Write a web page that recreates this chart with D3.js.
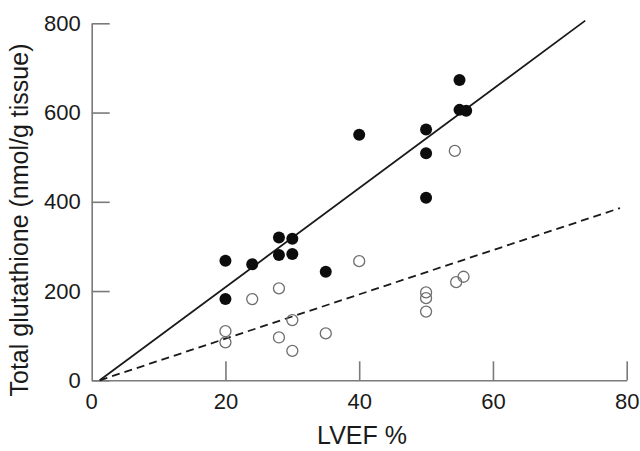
<!DOCTYPE html>
<html>
<head>
<meta charset="utf-8">
<script src="https://cdn.jsdelivr.net/npm/d3@7"></script>
<style>
  html, body { margin: 0; padding: 0; background: #fff; }
  svg { display: block; }
  text { font-family: "Liberation Sans", Arial, Helvetica, sans-serif; }
</style>
</head>
<body>
<svg id="chart" width="640" height="451"></svg>
<script>
// LVEF (%) and total glutathione (nmol/g tissue)
const filledX = [20, 20, 24, 28, 30, 28, 30, 35, 40, 50, 50, 50, 55, 55, 56];
const filledY = [268, 182, 260, 320, 317, 281, 283, 243, 550, 562, 509, 409, 673, 606, 604];
const openX = [20, 20, 24, 28, 28, 30, 30, 35, 40, 50, 50, 50, 54.5, 55.6, 54.3];
const openY = [110, 85, 182, 206, 96, 135, 66, 105, 267, 197, 184, 154, 220, 232, 514];
// regression line endpoints [x, y]
const solidLine = [[1.2, 0], [73.8, 806]];
const dashedLine = [[1.2, 0], [79, 386]];
const xTicks = [20, 40, 60, 80];
const yTicks = [0, 200, 400, 600, 800];
const xTitle = "LVEF %";
const yTitle = "Total glutathione (nmol/g tissue)";

const W = 640, H = 451;
const margin = { left: 91.7, right: 13.3, top: 23.3, bottom: 70.7 };
const svg = d3.select("#chart");

const x = d3.scaleLinear().domain([0, 80]).range([margin.left, W - margin.right]);
const y = d3.scaleLinear().domain([0, 800]).range([H - margin.bottom, margin.top]);

const axisColor = "#7a7a7a";
const textColor = "#1a1a1a";
const tickFont = "22px";
const titleFont = "25px";

// axes
const gx = svg.append("g")
  .attr("transform", `translate(0,${y(0)})`)
  .call(d3.axisBottom(x).tickValues(xTicks).tickSize(-19).tickSizeOuter(0).tickPadding(13));
const gy = svg.append("g")
  .attr("transform", `translate(${x(0)},0)`)
  .call(d3.axisLeft(y).tickValues(yTicks).tickSize(-18).tickSizeOuter(0).tickPadding(11));

[gx, gy].forEach(g => {
  g.select(".domain").attr("stroke", axisColor).attr("stroke-width", 1.6);
  g.selectAll(".tick line").attr("stroke", axisColor).attr("stroke-width", 1.6);
  g.selectAll(".tick text").attr("fill", textColor).style("font-size", tickFont);
});
// x axis: the 0 label sits under the y-axis
svg.append("text")
  .attr("x", x(0)).attr("y", y(0) + 13).attr("dy", "0.71em")
  .attr("text-anchor", "middle").attr("fill", textColor).style("font-size", tickFont)
  .text("0");

// regression lines
const line = d3.line().x(d => x(d[0])).y(d => y(d[1]));
svg.append("path").datum(solidLine).attr("d", line)
  .attr("fill", "none").attr("stroke", "#1a1a1a").attr("stroke-width", 1.8);
svg.append("path").datum(dashedLine).attr("d", line)
  .attr("fill", "none").attr("stroke", "#1a1a1a").attr("stroke-width", 1.8)
  .attr("stroke-dasharray", "8,5");

// open circles
svg.append("g").selectAll("circle").data(openX.map((v, i) => [v, openY[i]]))
  .join("circle")
  .attr("cx", d => x(d[0])).attr("cy", d => y(d[1])).attr("r", 5.5)
  .attr("fill", "none").attr("stroke", "#6e6e6e").attr("stroke-width", 1.3);

// filled circles
svg.append("g").selectAll("circle").data(filledX.map((v, i) => [v, filledY[i]]))
  .join("circle")
  .attr("cx", d => x(d[0])).attr("cy", d => y(d[1])).attr("r", 6)
  .attr("fill", "#0d0d0d");

// axis titles
svg.append("text")
  .attr("x", 362).attr("y", 444)
  .attr("text-anchor", "middle").attr("fill", textColor).style("font-size", titleFont)
  .text(xTitle);
svg.append("text")
  .attr("transform", "translate(28,220) rotate(-90)")
  .attr("text-anchor", "middle").attr("fill", textColor).style("font-size", titleFont)
  .text(yTitle);
</script>
</body>
</html>
